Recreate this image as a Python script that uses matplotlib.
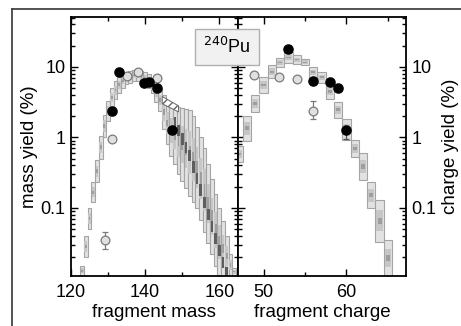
"""Mass and charge yield plot for 240Pu fission fragments."""

import matplotlib

matplotlib.use("Agg")

import matplotlib.pyplot as plt
from matplotlib.lines import Line2D
from matplotlib.patches import Rectangle
from matplotlib.ticker import LogLocator, MultipleLocator, NullFormatter

plt.rcParams["font.family"] = ["Liberation Sans", "DejaVu Sans"]

# calculated mass distribution: per-bin band (low, high) in %
mass_bins = list(range(123, 165))
mass_lo = [0.011, 0.02, 0.05, 0.12, 0.23, 0.5, 1.0, 1.7, 2.7, 3.5, 4.3, 5.0,
           5.8, 6.0, 6.3, 6.3, 6.0, 5.5, 5.0, 4.2, 3.2, 2.4, 1.3, 0.8, 0.55,
           0.42, 0.3, 0.24, 0.19, 0.15, 0.12, 0.1, 0.068, 0.045, 0.032,
           0.022, 0.015, 0.011, 0.011, 0.011, 0.011, 0.011]
mass_hi = [0.015, 0.04, 0.10, 0.23, 0.48, 1.05, 2.1, 3.3, 5.0, 6.3, 7.3, 8.0,
           8.5, 8.8, 9.0, 9.0, 8.8, 8.5, 7.8, 6.8, 5.8, 4.8, 4.0, 3.2, 2.9,
           2.8, 2.7, 2.6, 2.55, 2.45, 2.0, 1.4, 1.0, 0.7, 0.42, 0.26, 0.16,
           0.10, 0.065, 0.04, 0.022, 0.014]
# darker ridge inside the heavy-fragment band
ridge_bins = list(range(148, 163))
ridge_val = [1.6, 1.25, 0.95, 0.72, 0.55, 0.38, 0.26, 0.18, 0.12, 0.08,
             0.055, 0.037, 0.025, 0.017, 0.012]
# hatched band
hatch_mass = [144.6, 149.0]
hatch_hi = [3.8, 2.8]
hatch_lo = [3.0, 2.3]

# measured mass yields
mass_filled = [131.0, 133.0, 139.6, 141.0, 143.2, 147.3]
yield_filled = [2.4, 8.5, 6.0, 6.2, 5.0, 1.28]
mass_open = [129.2, 131.1, 135.2, 138.1, 143.2]
yield_open = [0.035, 0.95, 7.4, 8.4, 7.0]
mass_open_err_lo = [0.009, 0.0, 0.0, 0.0, 0.0]
mass_open_err_hi = [0.010, 0.0, 0.0, 0.0, 0.0]

# calculated charge distribution
charge_bins = list(range(47, 66))
charge_lo = [0.45, 0.9, 2.3, 4.3, 7.0, 10.0, 11.5, 11.0, 10.5, 7.0, 6.0, 3.5,
             1.9, 0.93, 0.53, 0.25, 0.1, 0.033, 0.011]
charge_hi = [0.75, 2.0, 4.0, 7.2, 10.5, 13.5, 16.0, 14.5, 13.0, 10.0, 8.5,
             5.8, 3.2, 1.8, 0.93, 0.6, 0.23, 0.13, 0.035]

# measured charge yields
charge_filled = [52.9, 56.0, 58.0, 59.0, 60.0]
cyield_filled = [18.0, 6.3, 6.2, 5.0, 1.28]
charge_open = [48.9, 51.9, 54.0, 56.0]
cyield_open = [7.6, 7.1, 6.8, 2.4]
charge_open_err_lo = [0.0, 0.0, 0.0, 0.55]
charge_open_err_hi = [0.0, 0.0, 0.0, 0.9]


def draw_boxes(ax, bins, lo, hi):
    """Blurred-looking step boxes: light outer box with darker core."""
    for x, a, b in zip(bins, lo, hi):
        ax.add_patch(Rectangle((x - 0.5, a), 1, b - a, facecolor="#e2e2e2",
                               edgecolor="#a4a4a4", linewidth=0.8, zorder=2))
        la, lb = a ** 0.75 * b ** 0.25, a ** 0.25 * b ** 0.75
        ax.add_patch(Rectangle((x - 0.38, la), 0.76, lb - la,
                               facecolor="#c6c6c6", linewidth=0, zorder=2))
        ca, cb = a ** 0.58 * b ** 0.42, a ** 0.42 * b ** 0.58
        ax.add_patch(Rectangle((x - 0.25, ca), 0.5, cb - ca,
                               facecolor="#9e9e9e", linewidth=0, zorder=2))


def style_axes(ax):
    ax.set_yscale("log")
    ax.set_ylim(0.0108, 51)
    ax.yaxis.set_major_locator(LogLocator(base=10, numticks=10))
    ax.yaxis.set_minor_locator(LogLocator(base=10, subs=range(2, 10), numticks=10))
    ax.yaxis.set_minor_formatter(NullFormatter())
    ax.tick_params(which="both", direction="in", top=True, bottom=True,
                   left=True, right=True, width=1.0, labelsize=13, pad=4)
    ax.tick_params(which="major", length=5)
    ax.tick_params(which="minor", length=3)
    ax.tick_params(axis="x", which="both", pad=6)
    for spine in ax.spines.values():
        spine.set_linewidth(1.3)


fig = plt.figure(figsize=(4.61, 3.26), dpi=100)
ax1 = fig.add_axes([0.154, 0.153, 0.362, 0.795])
ax2 = fig.add_axes([0.516, 0.153, 0.365, 0.795])

# left: mass
draw_boxes(ax1, mass_bins, mass_lo, mass_hi)
for x, v in zip(ridge_bins, ridge_val):
    ax1.add_patch(Rectangle((x - 0.35, v / 1.2), 0.7, v * 1.2 - v / 1.2,
                            facecolor="#5e5e5e", linewidth=0, zorder=2))
ax1.fill_between(hatch_mass, hatch_lo, hatch_hi, facecolor="white",
                 edgecolor="#666666", hatch="////", linewidth=0.7, zorder=3)
ax1.errorbar(mass_open, yield_open, yerr=[mass_open_err_lo, mass_open_err_hi],
             fmt="o", ms=6.3, mfc="#e0e0e0", mec="#7a7a7a", mew=0.9,
             ecolor="#7a7a7a", elinewidth=0.9, capsize=2, zorder=4)
ax1.plot(mass_filled, yield_filled, "o", ms=6.6, color="black", zorder=5)
style_axes(ax1)
ax1.set_xlim(120, 165)
ax1.xaxis.set_major_locator(MultipleLocator(20))
ax1.xaxis.set_minor_locator(MultipleLocator(10))
ax1.tick_params(which="both", labelleft=True, labelright=False)
ax1.set_xlabel("fragment mass", fontsize=13.5, labelpad=2)
ax1.set_ylabel("mass yield (%)", fontsize=13.5, labelpad=2)
ax1.set_yticks([0.1, 1, 10], ["0.1", "1", "10"])

# right: charge
draw_boxes(ax2, charge_bins, charge_lo, charge_hi)
ax2.errorbar(charge_open, cyield_open, yerr=[charge_open_err_lo, charge_open_err_hi],
             fmt="o", ms=6.3, mfc="#e0e0e0", mec="#7a7a7a", mew=0.9,
             ecolor="#7a7a7a", elinewidth=0.9, capsize=2, zorder=4)
ax2.errorbar(charge_filled, cyield_filled, yerr=[[0, 0, 0, 0, 0.33], [0, 0, 0, 0, 0]],
             fmt="o", ms=6.6, color="black", ecolor="#555555", elinewidth=0.9,
             capsize=2, zorder=5)
style_axes(ax2)
ax2.set_xlim(46.9, 67.2)
ax2.xaxis.set_major_locator(MultipleLocator(10))
ax2.xaxis.set_minor_locator(MultipleLocator(5))
ax2.set_yticks([0.1, 1, 10], ["0.1", "1", "10"])
ax2.tick_params(which="both", labelleft=False, labelright=True)
ax2.yaxis.set_label_position("right")
ax2.set_xlabel("fragment charge", fontsize=13.5, labelpad=2)
ax2.set_ylabel("charge yield (%)", fontsize=13.5, labelpad=4)

# nucleus label
fig.text(0.492, 0.856, "$^{240}$Pu", fontsize=13, ha="center", va="center",
         bbox={"boxstyle": "square,pad=0.45", "facecolor": "#f1f1f1",
               "edgecolor": "#b0b0b0", "linewidth": 1.0}, zorder=10)

# outer frame (partly cut off)
fig.add_artist(Line2D([12 / 461, 1.0], [1 - 9 / 326, 1 - 9 / 326],
                      transform=fig.transFigure, color="#444444", linewidth=1.3))
fig.add_artist(Line2D([12 / 461, 12 / 461], [0.0, 1 - 9 / 326],
                      transform=fig.transFigure, color="#444444", linewidth=1.3))

fig.savefig("out.png", dpi=100)
